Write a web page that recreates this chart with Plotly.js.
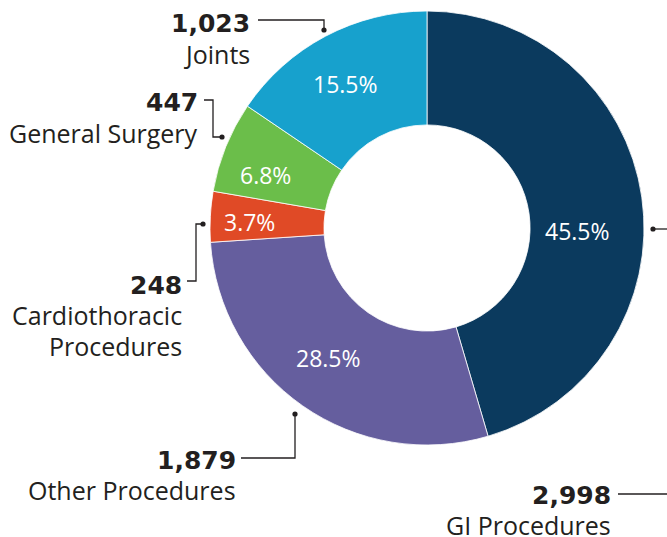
<!DOCTYPE html>
<html>
<head>
<meta charset="utf-8">
<script src="https://cdn.plot.ly/plotly-3.0.1.min.js"></script>
<style>
    html, body { margin: 0; padding: 0; background: #fff; }
    #chart { width: 667px; height: 537px; }
</style>
</head>
<body>
<div id="chart"></div>
<script>
// slices, clockwise from 12 o'clock
const categories = ['GI Procedures', 'Other Procedures', 'Cardiothoracic Procedures', 'General Surgery', 'Joints'];
const counts = [2998, 1879, 248, 447, 1023];
const pctLabels = ['45.5%', '28.5%', '3.7%', '6.8%', '15.5%'];
const nameLines = [['GI Procedures'], ['Other Procedures'], ['Cardiothoracic', 'Procedures'], ['General Surgery'], ['Joints']];
const sliceColors = ['#0b3a5e', '#655e9e', '#e04a26', '#6bbe4a', '#17a1cd'];

const W = 667, H = 537;
const px = x => x / W;          // pixel -> paper
const py = y => 1 - y / H;

// donut geometry in px
const cx = 427, cy = 228, rOut = 217, hole = 0.475;

// percent labels: hand placed like the print, as angle nudge (deg) and radius (px)
const pctNudge = [9.1, 2.5, -0.8, -3.4, -1.5];
const pctRadius = [151, 162, 178, 170, 166];

// outside labels: right edge and centre of the number line, in px
const labelPos = [[613, 493], [238, 458], [184, 283], [200, 101], [252, 22]];
const lineGap = 31;

// leader lines (px points)
const leaders = [
    [[667, 494], [618, 494]],
    [[241, 458], [295, 458], [295, 414]],
    [[187, 281], [196, 281], [196, 224], [203, 224]],
    [[204, 100], [213, 100], [213, 137], [222, 137]],
    [[258, 20], [324, 20], [324, 30]]
];
const extraDots = [[653, 229]];
const ink = '#231f20';

const annotations = [];
categories.forEach((c, i) => {
    const [x, y] = labelPos[i];
    annotations.push({
        xref: 'paper', yref: 'paper', x: px(x), y: py(y + 2),
        xanchor: 'right', yanchor: 'middle', showarrow: false,
        text: '<b>' + counts[i].toLocaleString('en-US') + '</b>',
        font: {family: 'DejaVu Sans', size: 25, color: ink}
    });
    nameLines[i].forEach((t, j) => {
        annotations.push({
            xref: 'paper', yref: 'paper', x: px(x), y: py(y + 1 + lineGap * (j + 1)),
            xanchor: 'right', yanchor: 'middle', showarrow: false,
            text: t,
            font: {family: 'Open Sans', size: 25, color: ink}
        });
    });
});

// percent labels at the middle angle of each slice
const total = counts.reduce((a, b) => a + b, 0);
let cum = 0;
counts.forEach((v, i) => {
    const mid = (cum + v / 2) / total * 360 + pctNudge[i];
    cum += v;
    const a = mid * Math.PI / 180;
    annotations.push({
        xref: 'paper', yref: 'paper',
        x: px(cx + pctRadius[i] * Math.sin(a)), y: py(cy - pctRadius[i] * Math.cos(a) + 1),
        xanchor: 'center', yanchor: 'middle', showarrow: false,
        text: pctLabels[i],
        font: {family: 'Open Sans', size: 23, color: '#ffffff'}
    });
});

const shapes = [];
leaders.forEach(pts => {
    const path = pts.map((p, k) => (k ? 'L' : 'M') + px(p[0]) + ',' + py(p[1])).join(' ');
    shapes.push({type: 'path', xref: 'paper', yref: 'paper', path: path, line: {color: ink, width: 1.3}});
});
leaders.map(pts => pts[pts.length - 1]).slice(1).concat(extraDots).forEach(p => {
    shapes.push({
        type: 'circle', xref: 'paper', yref: 'paper',
        x0: px(p[0] - 2.6), x1: px(p[0] + 2.6), y0: py(p[1] + 2.6), y1: py(p[1] - 2.6),
        fillcolor: ink, line: {width: 0}
    });
});
shapes.push({type: 'line', xref: 'paper', yref: 'paper', x0: px(653), x1: 1, y0: py(229), y1: py(229), line: {color: ink, width: 1.3}});

const trace = {
    type: 'pie',
    labels: categories,
    values: counts,
    textinfo: 'none',
    hole: hole,
    sort: false,
    direction: 'clockwise',
    rotation: 0,
    marker: {colors: sliceColors, line: {color: '#ffffff', width: 0.8}},
    domain: {x: [px(cx - rOut), px(cx + rOut)], y: [py(cy + rOut), py(cy - rOut)]},
    showlegend: false,
    hoverinfo: 'label+value'
};

const layout = {
    width: W,
    height: H,
    margin: {l: 0, r: 0, t: 0, b: 0},
    paper_bgcolor: '#ffffff',
    showlegend: false,
    annotations: annotations,
    shapes: shapes
};

Plotly.newPlot('chart', [trace], layout, {displayModeBar: false, staticPlot: true});
</script>
</body>
</html>
